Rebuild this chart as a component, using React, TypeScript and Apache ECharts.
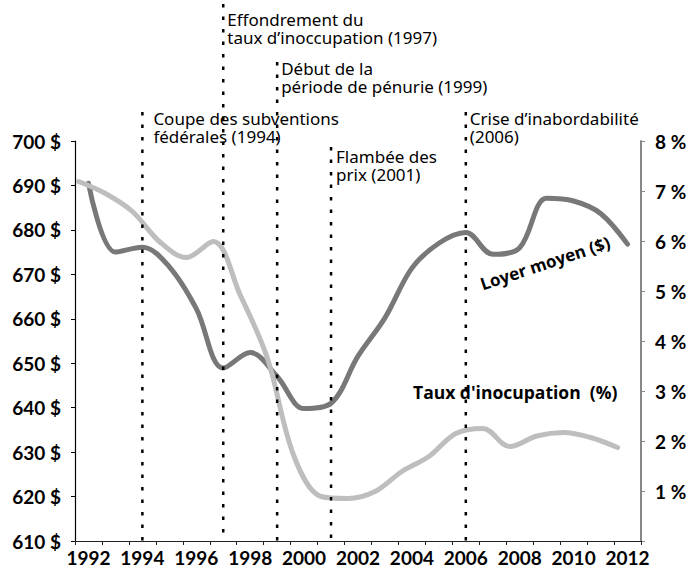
import React, { useEffect, useRef } from "react";
import * as echarts from "echarts";

// ---- data ----
const years = [
  "1992", "1993", "1994", "1995", "1996", "1997", "1998", "1999", "2000", "2001", "2002",
  "2003", "2004", "2005", "2006", "2007", "2008", "2009", "2010", "2011", "2012",
];
// Loyer moyen ($) – left axis
const rent = [
  690.5, 675.0, 676.1, 671.7, 662.3, 648.9, 652.4, 647.0, 639.8, 641.0, 651.6,
  660.2, 671.4, 677.0, 679.4, 674.5, 676.0, 687.1, 686.5, 683.7, 676.8,
];
// Taux d'inoccupation (%) – right axis
const vacancy = [
  7.19, 6.95, 6.59, 5.99, 5.67, 5.99, 4.92, 3.67, 1.69, 0.89, 0.85,
  0.99, 1.39, 1.69, 2.15, 2.25, 1.89, 2.10, 2.17, 2.07, 1.87,
];
const eventYears = ["1994", "1997", "1999", "2001", "2006"];
const eventLabels = [
  "Coupe des subventions\nfédérales (1994)",
  "Effondrement du\ntaux d’inoccupation (1997)",
  "Début de la\npériode de pénurie (1999)",
  "Flambée des\nprix (2001)",
  "Crise d’inabordabilité\n(2006)",
];
const leftTicks = { min: 610, max: 700, interval: 10 };
const rightTicks = { min: 0, max: 8, interval: 1 };

// ---- layout (pixels) ----
const eventLayout = [
  { lineTop: 112, textTop: 109, dx: 11 },
  { lineTop: 4, textTop: 10, dx: 4 },
  { lineTop: 62, textTop: 59, dx: 4 },
  { lineTop: 147, textTop: 147, dx: 5 },
  { lineTop: 112, textTop: 109, dx: 4 },
];

const AXIS_FONT = "Lato";
const LABEL_FONT = "Open Sans";
const NOTE_FONT = "Noto Sans";

export default function App() {
  const ref = useRef<HTMLDivElement>(null);
  useEffect(() => {
    if (!ref.current) return;
    const chart = echarts.init(ref.current, null, { renderer: "svg" });
    const firstYear = Number(years[0]);
    const vacancyData = vacancy.map((v, i) => [firstYear + i, v]);
    const eventData = eventYears.map((y, i) => [years.indexOf(y), leftTicks.min, i]);

    chart.setOption({
      animation: false,
      backgroundColor: "#ffffff",
      grid: { left: 75, right: 58, top: 141, bottom: 35, containLabel: false },
      xAxis: [
        {
          type: "category",
          data: years,
          boundaryGap: true,
          axisLine: { lineStyle: { color: "#222", width: 1.2 } },
          axisTick: { show: true, interval: 0, alignWithLabel: false, length: 4, lineStyle: { color: "#222" } },
          axisLabel: {
            interval: 1,
            color: "#000",
            fontFamily: AXIS_FONT,
            fontWeight: "bold",
            fontSize: 19,
            margin: 7,
          },
          splitLine: { show: false },
        },
        {
          type: "value",
          show: false,
          min: firstYear - 3.5 / 27,
          max: firstYear - 3.5 / 27 + 21,
          splitLine: { show: false },
        },
      ],
      yAxis: [
        {
          type: "value",
          position: "left",
          min: leftTicks.min,
          max: leftTicks.max,
          interval: leftTicks.interval,
          axisLine: { show: true, lineStyle: { color: "#000", width: 1.2 } },
          axisTick: { show: true, length: 4, lineStyle: { color: "#000" } },
          axisLabel: {
            formatter: (v: number) => `${v} $`,
            color: "#000",
            fontFamily: AXIS_FONT,
            fontWeight: "bold",
            fontSize: 19,
            margin: 14,
          },
          splitLine: { show: false },
        },
        {
          type: "value",
          position: "right",
          min: rightTicks.min,
          max: rightTicks.max,
          interval: rightTicks.interval,
          axisLine: { show: true, lineStyle: { color: "#888", width: 2 } },
          axisTick: { show: true, length: 4, lineStyle: { color: "#888" } },
          axisLabel: {
            formatter: (v: number) => (v === 0 ? "" : `${v} %`),
            color: "#000",
            fontFamily: AXIS_FONT,
            fontWeight: "bold",
            fontSize: 19,
            margin: 14,
          },
          splitLine: { show: false },
        },
      ],
      series: [
        {
          name: "Loyer moyen ($)",
          type: "line",
          xAxisIndex: 0,
          yAxisIndex: 0,
          data: rent,
          smooth: 0.35,
          symbol: "none",
          lineStyle: { color: "#787878", width: 5, cap: "round" },
          z: 3,
        },
        {
          name: "Taux d'inoccupation (%)",
          type: "line",
          xAxisIndex: 1,
          yAxisIndex: 1,
          data: vacancyData,
          smooth: 0.35,
          symbol: "none",
          lineStyle: { color: "#bebebe", width: 5, cap: "round" },
          z: 4,
        },
        {
          name: "events",
          type: "custom",
          xAxisIndex: 0,
          yAxisIndex: 0,
          clip: false,
          data: eventData,
          z: 5,
          renderItem: (params: any, api: any) => {
            const idx = api.value(0);
            const k = api.value(2);
            const bottom = api.coord([idx, api.value(1)]);
            const lay = eventLayout[k];
            return {
              type: "group",
              children: [
                {
                  type: "line",
                  shape: { x1: bottom[0], y1: lay.lineTop, x2: bottom[0], y2: bottom[1] },
                  style: { stroke: "#000", lineWidth: 2.5, lineDash: [3.5, 9] },
                },
                {
                  type: "text",
                  x: bottom[0] + lay.dx,
                  y: lay.textTop,
                  style: {
                    text: eventLabels[k],
                    fill: "#000",
                    fontFamily: NOTE_FONT,
                    fontSize: 17,
                    lineHeight: 18,
                    verticalAlign: "top",
                    align: "left",
                  },
                },
              ],
            };
          },
        },
      ],
      graphic: [
        {
          type: "text",
          x: 545,
          y: 263,
          rotation: 0.32,
          style: {
            text: "Loyer moyen ($)",
            fill: "#000",
            fontFamily: LABEL_FONT,
            fontWeight: "bold",
            fontSize: 17,
            align: "center",
            verticalAlign: "middle",
          },
        },
        {
          type: "text",
          x: 413,
          y: 392,
          style: {
            text: "Taux d'inocupation  (%)",
            fill: "#000",
            fontFamily: LABEL_FONT,
            fontWeight: "bold",
            fontSize: 17.5,
            align: "left",
            verticalAlign: "middle",
          },
        },
      ],
    });
    return () => chart.dispose();
  }, []);

  return (
    <div
      ref={ref}
      style={{ position: "fixed", left: 0, top: 0, width: 699, height: 576, background: "#fff" }}
    />
  );
}
